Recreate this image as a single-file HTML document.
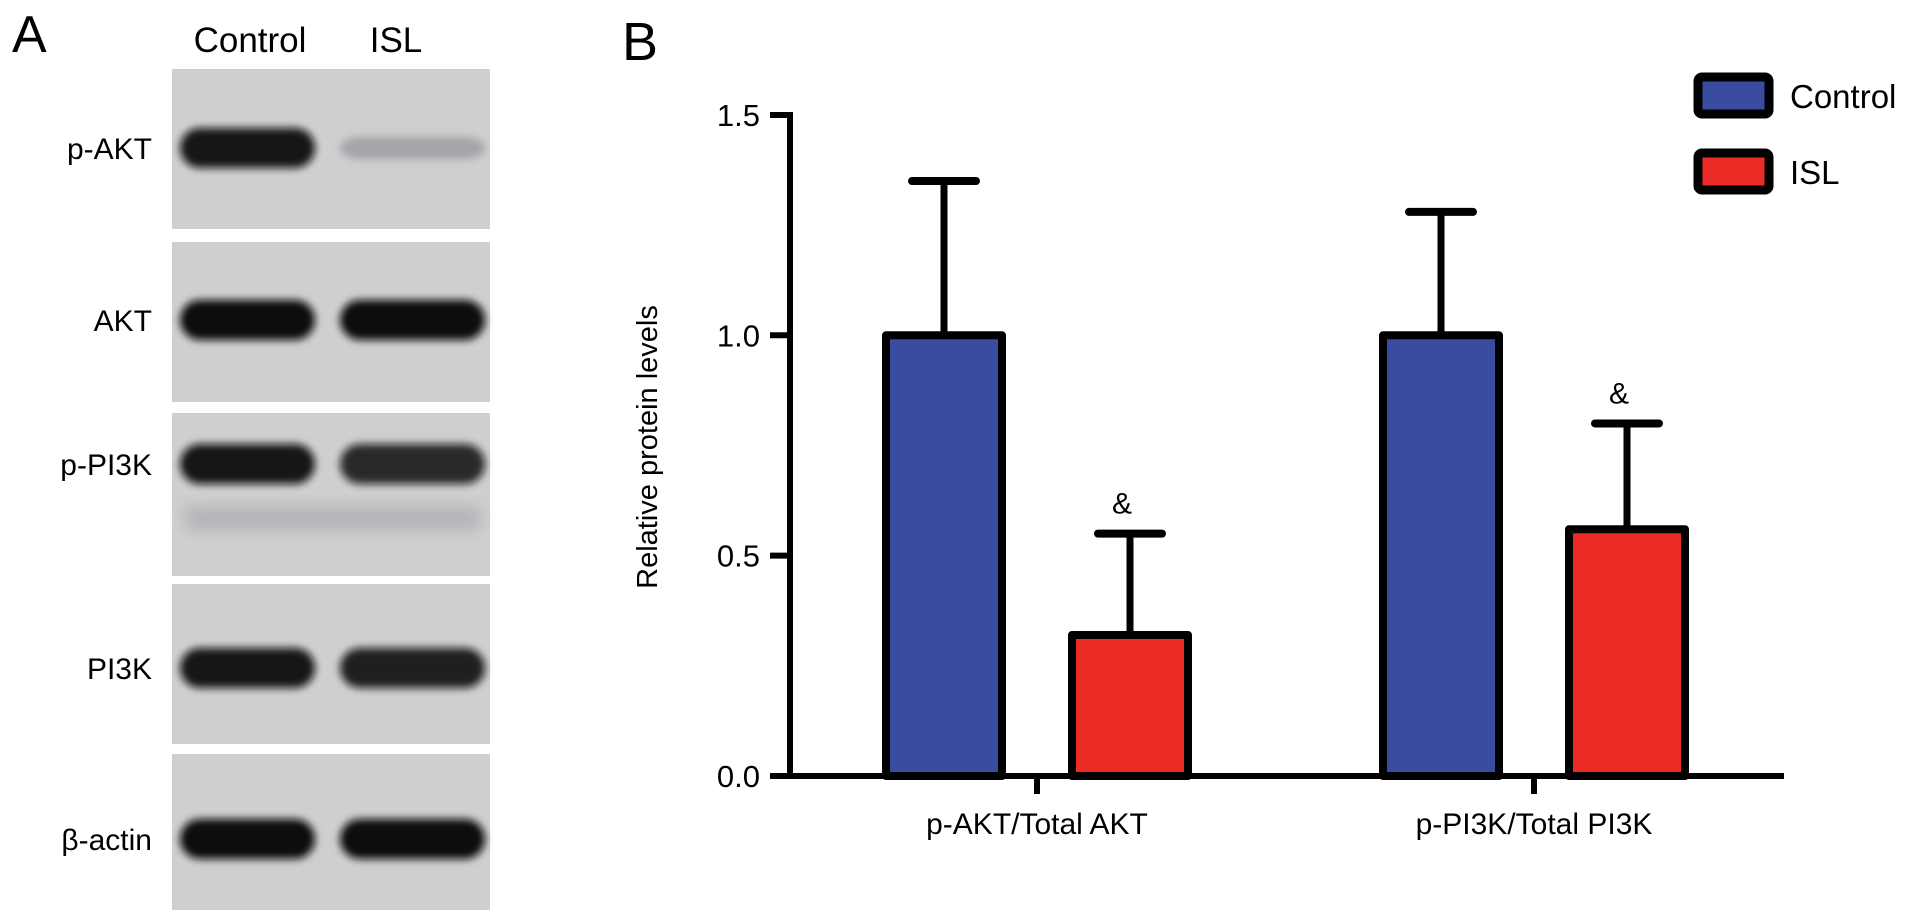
<!DOCTYPE html>
<html><head><meta charset="utf-8"><style>
html,body{margin:0;padding:0;background:#fff;}
body{width:1913px;height:919px;overflow:hidden;font-family:"Liberation Sans",Arial,sans-serif;}
</style></head><body>
<svg id="fig" width="1913" height="919" viewBox="0 0 1913 919" xmlns="http://www.w3.org/2000/svg">
<defs>
<filter id="blur" x="-20%" y="-50%" width="140%" height="200%"><feGaussianBlur stdDeviation="7"/></filter>
<filter id="blur2" x="-20%" y="-50%" width="140%" height="200%"><feGaussianBlur stdDeviation="4"/></filter>
</defs>
<g id="panelA">
<text x="12" y="52" font-size="52">A</text>
<text x="250" y="52" font-size="35" text-anchor="middle">Control</text>
<text x="396" y="52" font-size="35" text-anchor="middle">ISL</text>
</g>
<g id="panelB">
<text x="622" y="60" font-size="54">B</text>
</g>
</svg>
<script>
const blotRows = ['p-AKT','AKT','p-PI3K','PI3K','β-actin'];
const blotControl = [0.95, 1.0, 0.95, 0.95, 1.0];
const blotISL = [0.35, 1.0, 0.85, 0.9, 1.0];

const categories = ['p-AKT/Total AKT','p-PI3K/Total PI3K'];
const controlValues = [1.0, 1.0];
const controlErrors = [0.35, 0.28];
const islValues = [0.32, 0.56];
const islErrors = [0.23, 0.24];
const islMarks = ['&','&'];
const yTicks = [0, 0.5, 1.0, 1.5];
const yTickLabels = ['0.0','0.5','1.0','1.5'];

const NS='http://www.w3.org/2000/svg';
function mk(tag, attrs, parent){const e=document.createElementNS(NS,tag);for(const k in attrs)e.setAttribute(k,attrs[k]);parent.appendChild(e);return e;}
const A=document.getElementById('panelA'), B=document.getElementById('panelB');

// Blot
const rowTops=[69,242,413,584,754], rowHs=[160,160,163,160,156], bandY=[148,320,464,668,839];
blotRows.forEach((name,i)=>{
  const top=rowTops[i], rowH=rowHs[i];
  const bg=mk('rect',{x:172,y:top,width:318,height:rowH,fill:'#cfcfcf'},A);
  
  
  const cy=bandY[i];
  const c1=mk('rect',{x:180,y:cy-20,width:135,height:40,rx:20,fill:'#111',opacity:blotControl[i],filter:'url(#blur2)'},A);
  
  
  const c2=mk('rect',{x:340,y:cy-(blotISL[i]<0.5?11:20),width:145,height:blotISL[i]<0.5?22:40,rx:20,fill:blotISL[i]<0.5?'#556':'#111',opacity:blotISL[i],filter:'url(#blur2)'},A);
  
  
  if(i===2){
    const f=mk('rect',{x:185,y:cy+42,width:295,height:24,fill:'#9a9aa6',opacity:0.5,filter:'url(#blur)'},A);
    
    
  }
  const t=mk('text',{x:152,y:cy+11,'font-size':30,'text-anchor':'end'},A);
  t.textContent=name;
  
  
});

// Chart
const y0=776, pxPerUnit=440.7, axisX=790, axisEnd=1784;
const yS=v=>y0-v*pxPerUnit;
const groupCenters=[1037,1534], barOff=93, barW=124;
const xS=(g,s)=>groupCenters[g]+(s===0?-barOff:barOff);

const yl=mk('line',{x1:axisX,y1:yS(1.5)-3,x2:axisX,y2:y0+3,stroke:'#000','stroke-width':6},B);


const xl=mk('line',{x1:axisX-3,y1:y0,x2:axisEnd,y2:y0,stroke:'#000','stroke-width':6},B);


yTicks.forEach((v,i)=>{
  const tk=mk('line',{x1:axisX-20,y1:yS(v),x2:axisX,y2:yS(v),stroke:'#000','stroke-width':6},B);
  
  
  const t=mk('text',{x:axisX-30,y:yS(v)+11,'font-size':31,'text-anchor':'end'},B);
  t.textContent=yTickLabels[i];
  
  
});
const yt=mk('text',{x:0,y:0,'font-size':29,'text-anchor':'middle',transform:'translate(657,447) rotate(-90)'},B);
yt.textContent='Relative protein levels';



function bar(g,s,v,e,color,nm){
  const cx=xS(g,s);
  const el=mk('line',{x1:cx,y1:yS(v),x2:cx,y2:yS(v+e),stroke:'#000','stroke-width':7},B);
  
  
  const cap=mk('line',{x1:cx-32,y1:yS(v+e),x2:cx+32,y2:yS(v+e),stroke:'#000','stroke-width':8,'stroke-linecap':'round'},B);
  
  
  const r=mk('rect',{x:cx-barW/2+4,y:yS(v),width:barW-8,height:y0-yS(v),fill:color,stroke:'#000','stroke-width':8,'stroke-linejoin':'round'},B);
  
  
}
categories.forEach((c,g)=>{
  bar(g,0,controlValues[g],controlErrors[g],'#3a4ca0','control-'+g);
  bar(g,1,islValues[g],islErrors[g],'#ec2b27','isl-'+g);
  const m=mk('text',{x:xS(g,1)-8,y:yS(islValues[g]+islErrors[g])-20,'font-size':30,'text-anchor':'middle'},B);
  m.textContent=islMarks[g];
  
  
  const tk=mk('line',{x1:groupCenters[g],y1:y0,x2:groupCenters[g],y2:y0+18,stroke:'#000','stroke-width':6},B);
  
  
  const t=mk('text',{x:groupCenters[g],y:y0+58,'font-size':30,'text-anchor':'middle'},B);
  t.textContent=c;
  
  
});

// Legend
[['Control','#3a4ca0',73],['ISL','#ec2b27',149]].forEach(([n,col,y],i)=>{
  const r=mk('rect',{x:1698,y:y+4,width:71,height:37,rx:4,fill:col,stroke:'#000','stroke-width':9},B);
  
  
  const t=mk('text',{x:1790,y:y+35,'font-size':33},B);
  t.textContent=n;
  
  
});
</script>
</body></html>
